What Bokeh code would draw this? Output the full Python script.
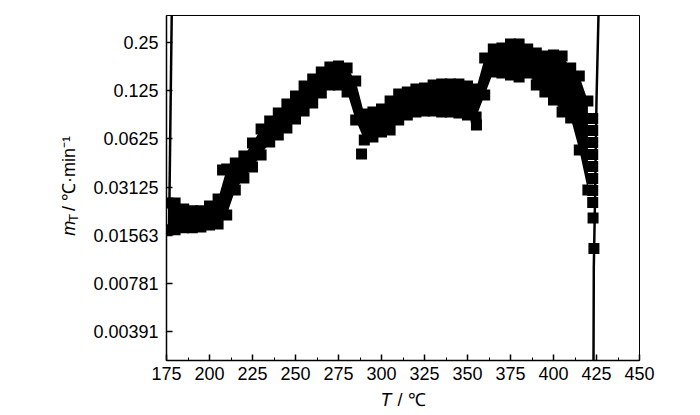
import math
from bokeh.plotting import figure
from bokeh.layouts import column, row
from bokeh.models import Range1d, SingleIntervalTicker, FixedTicker, Label
from bokeh.embed import file_html
from bokeh.resources import INLINE

# ---------------- data ----------------
x_ticks_interval = 25
y_ticks = [0.00390625, 0.0078125, 0.015625, 0.03125, 0.0625, 0.125, 0.25]
y_tick_labels = ["0.00391", "0.00781", "0.01563", "0.03125", "0.0625", "0.125", "0.25"]

T = [176, 180, 185, 190, 195, 200, 205, 210, 215, 220, 225, 230, 235, 240, 245,
     250, 255, 260, 265, 270, 275, 280, 285, 290, 295, 300, 305, 310, 315, 320,
     325, 330, 335, 340, 345, 350, 355, 360, 365, 370, 375, 380, 385, 390, 395,
     400, 405, 410, 415, 420]
m_upper = [0.0249, 0.0249, 0.0228, 0.0222, 0.0222, 0.0238, 0.0263, 0.0406, 0.0442, 0.0489,
           0.0589, 0.0720, 0.0808, 0.0907, 0.1032, 0.1158, 0.1337, 0.1480, 0.1636, 0.1758,
           0.1783, 0.1733, 0.1437, 0.0894, 0.0920, 0.0960, 0.1078, 0.1193, 0.1227, 0.1281,
           0.1300, 0.1357, 0.1377, 0.1377, 0.1377, 0.1337, 0.1281, 0.2000, 0.2277, 0.2310,
           0.2447, 0.2447, 0.2277, 0.2150, 0.2059, 0.2089, 0.2059, 0.1733, 0.1545, 0.1078]
m_lower = [0.0169, 0.0169, 0.0174, 0.0174, 0.0176, 0.0181, 0.0184, 0.0209, 0.0300, 0.0356,
           0.0417, 0.0496, 0.0598, 0.0661, 0.0731, 0.0832, 0.0934, 0.1047, 0.1209, 0.1357,
           0.1357, 0.1227, 0.0820, 0.0615, 0.0642, 0.0691, 0.0711, 0.0820, 0.0882, 0.0920,
           0.0934, 0.0934, 0.0920, 0.0920, 0.0907, 0.0882, 0.0856, 0.1175, 0.1636, 0.1612,
           0.1567, 0.1522, 0.1612, 0.1357, 0.1227, 0.1094, 0.0920, 0.0844, 0.0533, 0.0300]

# isolated points
T_extra = [207.6, 288.4, 355.2]
m_extra = [0.0400, 0.0503, 0.0763]

# steep tail near 423 C
T_tail = [422.8, 422.8, 422.8, 422.8, 422.8, 422.8, 422.8, 422.8, 423.0, 423.5]
m_tail = [0.0838, 0.0705, 0.0593, 0.0499, 0.0420, 0.0354, 0.0298, 0.0250, 0.0200, 0.0129]

# fitted lines at both ends
T_fit_left = [176.45, 178.5]
m_fit_left = [0.0156, 0.94]
T_fit_right = [423.2, 423.26, 423.43, 424.13, 425.0, 426.16, 426.5]
m_fit_right = [0.0020, 0.00258, 0.00982, 0.0258, 0.1086, 0.369, 0.5]

# ---------------- figure ----------------
FONT = "Liberation Sans"
LEFT_W = 88
TOP_H = 390
BOT_H = 24
MAIN_W = 602

p = figure(width=MAIN_W, height=TOP_H, x_range=Range1d(175, 450),
           y_range=Range1d(0.002578, 0.369), y_axis_type="log",
           output_backend="svg", toolbar_location=None,
           min_border_left=78, min_border_right=51,
           min_border_top=15, min_border_bottom=30)

p.xgrid.visible = False
p.ygrid.visible = False
p.outline_line_color = "black"
p.outline_line_width = 1
p.background_fill_color = "white"
p.border_fill_color = "white"

# data band
p.varea(x=T, y1=m_lower, y2=m_upper, fill_color="black")
p.scatter(T, m_upper, marker="square", size=11, fill_color="black", line_color=None)
p.scatter(T, m_lower, marker="square", size=11, fill_color="black", line_color=None)
p.scatter(T_extra, m_extra, marker="square", size=11, fill_color="black", line_color=None)
p.scatter(T_tail, m_tail, marker="square", size=11, fill_color="black", line_color=None)

p.line(T_fit_left, m_fit_left, line_color="black", line_width=2.5)
p.line(T_fit_right, m_fit_right, line_color="black", line_width=2.5)

# axes
xa = p.xaxis[0]
xa.ticker = SingleIntervalTicker(interval=x_ticks_interval, num_minor_ticks=2)
ya = p.yaxis[0]
ya.ticker = FixedTicker(ticks=y_ticks, minor_ticks=[])
ya.major_label_overrides = dict(zip(y_ticks, y_tick_labels))

for ax in (xa, ya):
    ax.axis_line_color = "black"
    ax.axis_line_width = 1.5
    ax.major_tick_in = 6
    ax.major_tick_out = 0
    ax.major_tick_line_color = "black"
    ax.major_tick_line_width = 1.5
    ax.minor_tick_in = 3
    ax.minor_tick_out = 0
    ax.minor_tick_line_color = "black"
    ax.major_label_text_font = FONT
    ax.major_label_text_font_size = "18px"
    ax.major_label_text_color = "black"
ya.minor_tick_line_color = None
xa.major_label_standoff = 6
ya.major_label_standoff = 8


def text_panel(w, h):
    f = figure(width=w, height=h, x_range=Range1d(0, w), y_range=Range1d(0, h),
               x_axis_type=None, y_axis_type=None, output_backend="svg",
               toolbar_location=None, min_border=0, outline_line_color=None)
    f.grid.visible = False
    f.background_fill_color = "white"
    f.border_fill_color = "white"
    return f


def lab(fig, x, y, text, size="18px", style="normal", angle=0.0):
    fig.add_layout(Label(x=x, y=y, text=text, angle=angle, text_font=FONT,
                         text_font_size=size, text_font_style=style,
                         text_color="black", text_align="left",
                         text_baseline="alphabetic"))


# y title: m_T / ℃·min⁻¹ (rotated)
yl = text_panel(LEFT_W, TOP_H)
r = math.pi / 2
lab(yl, 68.5, 141, "m", style="italic", angle=r)
lab(yl, 72.5, 156.5, "T", size="13px", angle=r)
lab(yl, 68.5, 169, "/ ℃·min⁻¹", angle=r)

# x title: T / ℃
xl = text_panel(LEFT_W + MAIN_W, BOT_H)
lab(xl, 380, 15, "T", style="italic")
lab(xl, 397, 15, "/ ℃")

layout = column(row(yl, p, spacing=0), xl, spacing=0)

open("out.html", "w").write(file_html(layout, INLINE))
